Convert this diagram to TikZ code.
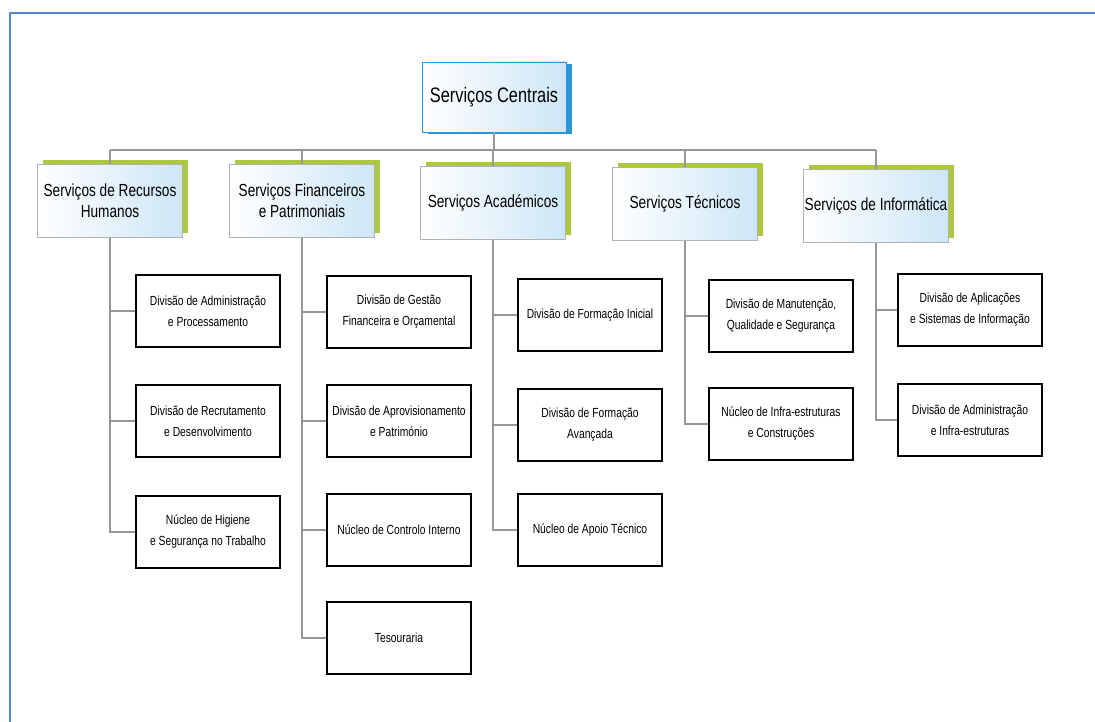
\documentclass[tikz,border=0pt]{standalone}
\usepackage{fontspec}
\setmainfont{Liberation Sans}[FakeStretch=0.78]
\usetikzlibrary{shadows}
\definecolor{frameblue}{RGB}{84,134,200}
\definecolor{topblue}{RGB}{40,150,215}
\definecolor{paleblue}{RGB}{205,230,246}
\definecolor{leafgreen}{RGB}{172,200,62}
\definecolor{linkgray}{RGB}{150,150,150}
\tikzset{
  topbox/.style={draw=topblue, line width=0.8pt, left color=white, right color=paleblue,
    minimum width=144pt, minimum height=70pt, inner sep=0pt, align=center,
    font=\fontsize{21}{25}\selectfont,
    general shadow={fill=topblue, shadow xshift=6pt, shadow yshift=-2pt}},
  servbox/.style={draw=black!30, line width=0.6pt, left color=white, right color=paleblue,
    minimum width=145pt, minimum height=73pt, inner sep=0pt, align=center,
    font=\fontsize{17.5}{21}\selectfont,
    general shadow={fill=leafgreen, shadow xshift=5pt, shadow yshift=4pt}},
  unitbox/.style={draw=black, line width=1.2pt, fill=white,
    minimum width=144pt, minimum height=72pt, inner sep=0pt, align=center,
    font=\fontsize{13.2}{21}\selectfont,
    path picture={\draw[line width=3pt] (path picture bounding box.south west) -- (path picture bounding box.south east);}},
  link/.style={draw=linkgray, line width=2pt}
}
\begin{document}
\begin{tikzpicture}[x=1pt,y=-1pt]
\useasboundingbox (0,0) rectangle (1095,722);
\fill[white] (0,0) rectangle (1095,722);
% outer frame
\draw[frameblue, line width=2pt] (10,722) -- (10,13) -- (1095,13);

% top level
\node[topbox] (sc) at (494,97) {Serviços Centrais};

% services
\node[servbox] (rh)  at (110,201) {Serviços de Recursos\\Humanos};
\node[servbox] (fin) at (302,201) {Serviços Financeiros\\e Patrimoniais};
\node[servbox] (aca) at (493,203) {Serviços Académicos};
\node[servbox] (tec) at (685,204) {Serviços Técnicos};
\node[servbox] (inf) at (876,206) {Serviços de Informática};

% units: Recursos Humanos
\node[unitbox] (rh1) at (208,311) {Divisão de Administração\\e Processamento};
\node[unitbox] (rh2) at (208,421) {Divisão de Recrutamento\\e Desenvolvimento};
\node[unitbox] (rh3) at (208,532) {Núcleo de Higiene\\e Segurança no Trabalho};
% units: Financeiros e Patrimoniais
\node[unitbox] (fin1) at (399,312) {Divisão de Gestão\\Financeira e Orçamental};
\node[unitbox] (fin2) at (399,421) {Divisão de Aprovisionamento\\e Património};
\node[unitbox] (fin3) at (399,530) {Núcleo de Controlo Interno};
\node[unitbox] (fin4) at (399,638) {Tesouraria};
% units: Académicos
\node[unitbox] (aca1) at (590,315) {Divisão de Formação Inicial};
\node[unitbox] (aca2) at (590,425) {Divisão de Formação\\Avançada};
\node[unitbox] (aca3) at (590,530) {Núcleo de Apoio Técnico};
% units: Técnicos
\node[unitbox] (tec1) at (781,316) {Divisão de Manutenção,\\Qualidade e Segurança};
\node[unitbox] (tec2) at (781,424) {Núcleo de Infra-estruturas\\e Construções};
% units: Informática
\node[unitbox] (inf1) at (970,310) {Divisão de Aplicações\\e Sistemas de Informação};
\node[unitbox] (inf2) at (970,420) {Divisão de Administração\\e Infra-estruturas};

% bus between the top box and the services
\coordinate (busL) at (110,150);
\coordinate (busR) at (876,150);
\draw[link] (sc.south) -- (sc.south |- busL);
\draw[link] (busL) -- (busR);
\foreach \s in {rh,fin,aca,tec,inf}
  \draw[link] (\s.north) -- (\s.north |- busL);

% service to unit links
\draw[link] (rh.south) |- (rh3.west);
\foreach \u in {rh1,rh2} \draw[link] (rh.south |- \u.west) -- (\u.west);
\draw[link] (fin.south) |- (fin4.west);
\foreach \u in {fin1,fin2,fin3} \draw[link] (fin.south |- \u.west) -- (\u.west);
\draw[link] (aca.south) |- (aca3.west);
\foreach \u in {aca1,aca2} \draw[link] (aca.south |- \u.west) -- (\u.west);
\draw[link] (tec.south) |- (tec2.west);
\draw[link] (tec.south |- tec1.west) -- (tec1.west);
\draw[link] (inf.south) |- (inf2.west);
\draw[link] (inf.south |- inf1.west) -- (inf1.west);
\end{tikzpicture}
\end{document}
